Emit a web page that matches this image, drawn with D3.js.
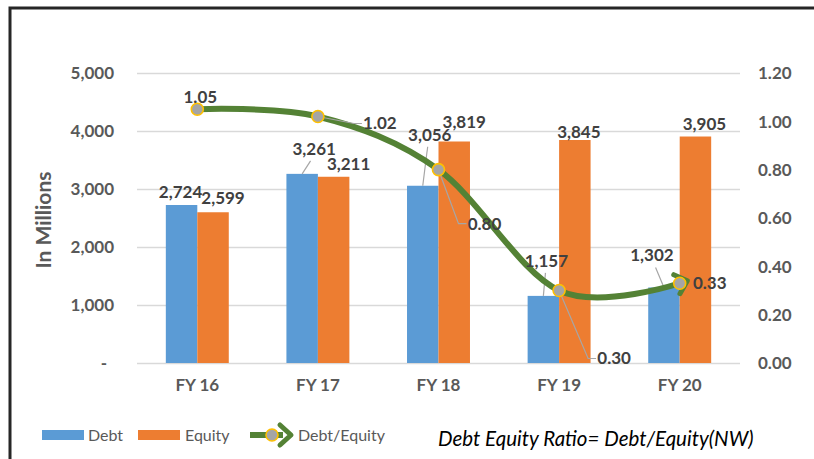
<!DOCTYPE html>
<html><head><meta charset="utf-8">
<script src="https://cdn.jsdelivr.net/npm/d3@7"></script>
<style>
html,body{margin:0;padding:0;background:#fff;overflow:hidden;}
svg{display:block;}
</style></head>
<body>
<svg id="chart" width="814" height="459"></svg>
<script>
// ---- data ----
const categories = ["FY 16", "FY 17", "FY 18", "FY 19", "FY 20"];
const debt = [2724, 3261, 3056, 1157, 1302];
const equity = [2599, 3211, 3819, 3845, 3905];
const ratio = [1.05, 1.02, 0.80, 0.30, 0.33];
const leftTicks = [0, 1000, 2000, 3000, 4000, 5000];
const rightTicks = [0, 0.2, 0.4, 0.6, 0.8, 1.0, 1.2];
const seriesNames = ["Debt", "Equity", "Debt/Equity"];
const noteText = "Debt Equity Ratio= Debt/Equity(NW)";
const yTitle = "In Millions";

// ---- layout (label nudges in px, relative to anchor) ----
const debtNudge = [[-1,-13],[12,-25],[7,-51],[3,-35],[-12,-32]];
const eqNudge = [[10,-14],[15,-13],[10,-19],[4,-8],[9,-12]];
const ratioNudge = [[3,-12],[62,7],[46,54],[55,68],[30,0]];

const svg = d3.select("#chart");
const plot = {left: 137, right: 740, top: 73, bottom: 363};

const colDebt = "#5b9bd5", colEq = "#ed7d31", colLine = "#548235";
const gridCol = "#d9d9d9", tickCol = "#595959", lblCol = "#404040", leadCol = "#a6a6a6";
const FONT = "Lato, 'Open Sans', sans-serif";

// frame (right and bottom edges lie outside the view)
svg.append("path").attr("d", "M10,470 L10,8 L830,8")
  .attr("fill", "none").attr("stroke", "#262626").attr("stroke-width", 3);

const x0 = d3.scaleBand().domain(categories).range([plot.left, plot.right])
  .paddingInner(0.478).paddingOuter(0.239);
const x1 = d3.scaleBand().domain(["Debt","Equity"]).range([0, x0.bandwidth()]);
const y = d3.scaleLinear().domain([0, 5000]).range([plot.bottom, plot.top]);
const y2 = d3.scaleLinear().domain([0, 1.2]).range([plot.bottom, plot.top]);
const cx = c => x0(c) + x0.bandwidth() / 2;

// gridlines
svg.append("g").selectAll("line").data(leftTicks).join("line")
  .attr("x1", plot.left).attr("x2", plot.right)
  .attr("y1", d => Math.round(y(d)) + 0.5).attr("y2", d => Math.round(y(d)) + 0.5)
  .attr("stroke", gridCol).attr("stroke-width", 1.3);

// left axis
const leftAxis = d3.axisLeft(y).tickValues(leftTicks)
  .tickFormat(d => d === 0 ? "-" : d3.format(",")(d)).tickSize(0).tickPadding(0);
const gl = svg.append("g").attr("transform", `translate(${plot.left - 23},0)`).call(leftAxis);
gl.select(".domain").remove();
gl.selectAll("text").attr("font-family", FONT).attr("font-weight", 700).attr("font-size", 17)
  .attr("fill", tickCol).attr("dy", "0.35em");
gl.selectAll(".tick").filter(d => d === 0).select("text").attr("dx", -7);

// right axis
const rightAxis = d3.axisRight(y2).tickValues(rightTicks).tickFormat(d3.format(".2f")).tickSize(0).tickPadding(0);
const gr = svg.append("g").attr("transform", `translate(${plot.right + 18},0)`).call(rightAxis);
gr.select(".domain").remove();
gr.selectAll("text").attr("font-family", FONT).attr("font-weight", 700).attr("font-size", 17)
  .attr("fill", tickCol).attr("dy", "0.35em");

// x axis
const xAxis = d3.axisBottom(x0).tickSize(0).tickPadding(0);
const gx = svg.append("g").attr("transform", `translate(0,${plot.bottom + 22})`).call(xAxis);
gx.select(".domain").remove();
gx.selectAll("text").attr("font-family", FONT).attr("font-weight", 700).attr("font-size", 17)
  .attr("fill", tickCol).attr("dy", "0.35em");

// y title
svg.append("text").attr("transform", `translate(44,220) rotate(-90)`)
  .attr("text-anchor", "middle").attr("dy", "0.35em")
  .attr("font-family", FONT).attr("font-weight", 700).attr("font-size", 21).attr("fill", tickCol)
  .text(yTitle);

// bars
const rows = categories.map((c, i) => ({c, i, debt: debt[i], equity: equity[i], ratio: ratio[i]}));
svg.append("g").selectAll("rect").data(rows).join("rect")
  .attr("x", d => x0(d.c) + x1("Debt")).attr("width", x1.bandwidth())
  .attr("y", d => y(d.debt)).attr("height", d => y(0) - y(d.debt)).attr("fill", colDebt);
svg.append("g").selectAll("rect").data(rows).join("rect")
  .attr("x", d => x0(d.c) + x1("Equity")).attr("width", x1.bandwidth())
  .attr("y", d => y(d.equity)).attr("height", d => y(0) - y(d.equity)).attr("fill", colEq);

// leader lines for bar labels
const leaders = svg.append("g").attr("stroke", leadCol).attr("stroke-width", 1.2).attr("fill", "none");
rows.forEach(d => {
  const ax = x0(d.c) + x1("Debt") + x1.bandwidth() / 2, ay = y(d.debt);
  const [dx, dy] = debtNudge[d.i];
  if (Math.abs(dy) > 20) {
    leaders.append("line").attr("x1", ax).attr("y1", ay)
      .attr("x2", ax + dx * 0.7).attr("y2", ay + dy + 12);
  }
});

// line
const linePts = rows.map(d => [cx(d.c), y2(d.ratio)]);
const defs = svg.append("defs");
defs.append("marker").attr("id", "arrow").attr("markerUnits", "userSpaceOnUse")
  .attr("viewBox", "-20 -16 30 32").attr("refX", -9).attr("refY", 0)
  .attr("markerWidth", 30).attr("markerHeight", 32).attr("orient", "auto")
  .append("path").attr("d", "M-12,-10 L-1,0 L-12,10").attr("fill", "none")
  .attr("stroke", colLine).attr("stroke-width", 5).attr("stroke-linecap", "round").attr("stroke-linejoin", "round");

svg.append("path").datum(linePts)
  .attr("d", d3.line().curve(d3.curveCatmullRom.alpha(0)))
  .attr("fill", "none").attr("stroke", colLine).attr("stroke-width", 6)
  .attr("marker-end", "url(#arrow)");

// ratio leader lines
const rl = svg.append("g").attr("stroke", leadCol).attr("stroke-width", 1.2).attr("fill", "none");
rows.forEach(d => {
  const [px, py] = [cx(d.c), y2(d.ratio)];
  const [dx, dy] = ratioNudge[d.i];
  if (dx > 40) {
    const lx = px + dx - 18, ly = py + dy;
    rl.append("polyline").attr("points", `${px},${py} ${lx - 8},${ly} ${lx},${ly}`);
  }
});

// markers
svg.append("g").selectAll("circle").data(linePts).join("circle")
  .attr("cx", d => d[0]).attr("cy", d => d[1]).attr("r", 6)
  .attr("fill", "#a5a5a5").attr("stroke", "#ffc000").attr("stroke-width", 1.6);

// labels
const lab = svg.append("g").attr("font-family", FONT).attr("font-weight", 700).attr("font-size", 17)
  .attr("fill", lblCol).attr("text-anchor", "middle");
rows.forEach(d => {
  const ax = x0(d.c) + x1("Debt") + x1.bandwidth() / 2;
  lab.append("text").attr("x", ax + debtNudge[d.i][0]).attr("y", y(d.debt) + debtNudge[d.i][1])
    .attr("dy", "0.35em").text(d3.format(",")(d.debt));
});
rows.forEach(d => {
  const ax = x0(d.c) + x1("Equity") + x1.bandwidth() / 2;
  lab.append("text").attr("x", ax + eqNudge[d.i][0]).attr("y", y(d.equity) + eqNudge[d.i][1])
    .attr("dy", "0.35em").text(d3.format(",")(d.equity));
});
rows.forEach(d => {
  lab.append("text").attr("x", cx(d.c) + ratioNudge[d.i][0]).attr("y", y2(d.ratio) + ratioNudge[d.i][1])
    .attr("dy", "0.35em").text(d3.format(".2f")(d.ratio));
});

// legend
const lg = svg.append("g").attr("font-family", FONT).attr("font-size", 16).attr("fill", tickCol);
lg.append("rect").attr("x", 42).attr("y", 430).attr("width", 42).attr("height", 10).attr("fill", colDebt);
lg.append("text").attr("x", 88).attr("y", 435).attr("dy", "0.35em").text(seriesNames[0]);
lg.append("rect").attr("x", 138).attr("y", 430).attr("width", 42).attr("height", 10).attr("fill", colEq);
lg.append("text").attr("x", 185).attr("y", 435).attr("dy", "0.35em").text(seriesNames[1]);
lg.append("line").attr("x1", 250).attr("x2", 283).attr("y1", 435).attr("y2", 435)
  .attr("stroke", colLine).attr("stroke-width", 6).attr("marker-end", "url(#arrow)");
lg.append("circle").attr("cx", 272).attr("cy", 435).attr("r", 6)
  .attr("fill", "#a5a5a5").attr("stroke", "#ffc000").attr("stroke-width", 1.6);
lg.append("text").attr("x", 298).attr("y", 435).attr("dy", "0.35em").text(seriesNames[2]);

svg.append("text").attr("x", 438).attr("y", 439).attr("dy", "0.35em")
  .attr("font-family", FONT).attr("font-style", "italic").attr("font-size", 20.5).attr("fill", "#000")
  .text(noteText);
</script>
</body></html>
